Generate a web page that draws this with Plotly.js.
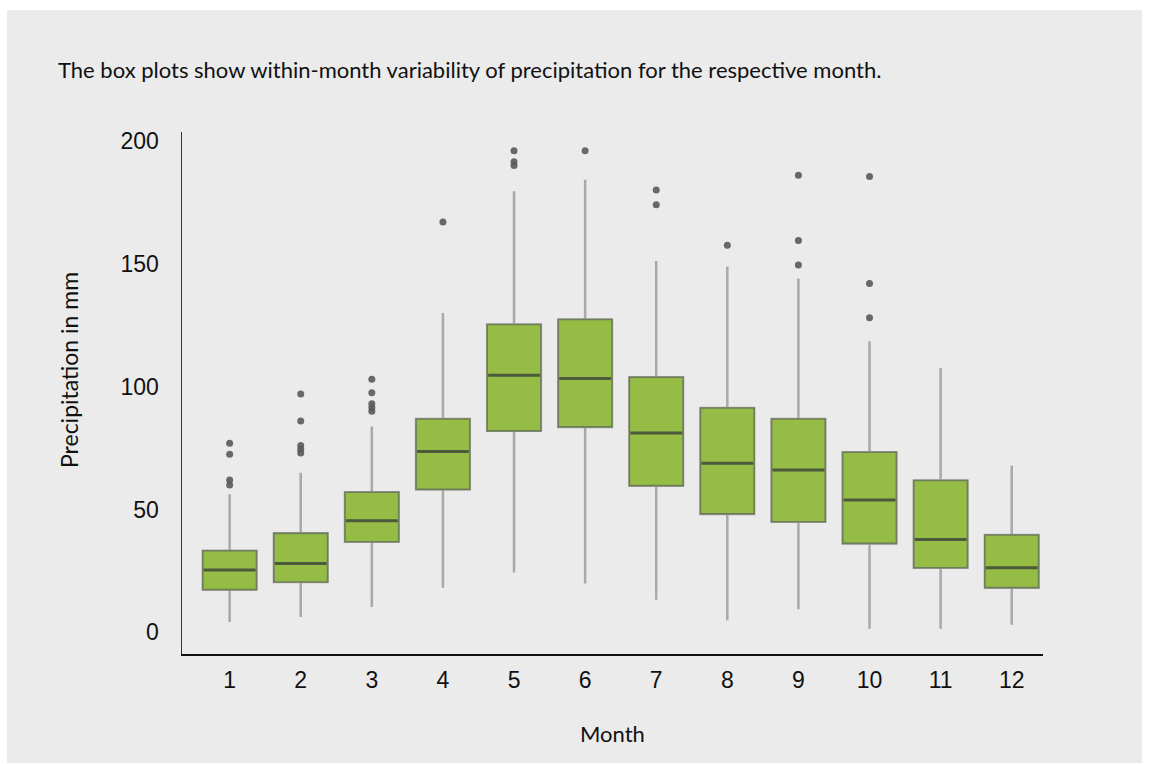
<!DOCTYPE html>
<html>
<head>
<meta charset="utf-8">
<script src="https://cdn.plot.ly/plotly-3.0.1.min.js"></script>
<style>
  html, body { margin: 0; padding: 0; background: #ffffff; }
  #chart { position: absolute; left: 7px; top: 10px; width: 1135px; height: 753px; }
</style>
</head>
<body>
<div id="chart"></div>
<script>
// ---- Data ----
const months = [1, 2, 3, 4, 5, 6, 7, 8, 9, 10, 11, 12];
const tickLabels = ["1", "2", "3", "4", "5", "6", "7", "8", "9", "10", "11", "12"];
const q1Values      = [17.4, 20.5, 36.9, 58.2, 82.0, 83.6, 59.7, 48.2, 45.0, 36.2, 26.3, 18.2];
const medianValues  = [25.4, 28.0, 45.4, 73.6, 104.6, 103.3, 81.1, 68.8, 66.1, 53.9, 37.8, 26.3];
const q3Values      = [33.2, 40.3, 57.0, 86.8, 125.3, 127.3, 103.8, 91.3, 86.8, 73.3, 61.8, 39.6];
const whiskerLow    = [4.2, 6.3, 10.3, 18.2, 24.4, 19.9, 13.3, 4.9, 9.4, 1.5, 1.5, 3.1];
const whiskerHigh   = [56.2, 65.0, 83.8, 130.0, 179.5, 184.2, 151.1, 148.9, 144.0, 118.5, 107.6, 67.9];
const outlierMonth  = [1, 1, 1, 1, 2, 2, 2, 2, 2, 3, 3, 3, 3, 3, 4, 5, 5, 5, 6, 7, 7, 8, 9, 9, 9, 10, 10, 10];
const outlierValue  = [77, 72.5, 62, 60, 97, 86, 76, 74.5, 73, 103, 97.5, 93, 91.5, 90, 167, 196, 191.5, 190, 196, 180, 174, 157.5, 186, 159.5, 149.5, 185.5, 142, 128];

const titleText = "The box plots show within-month variability of precipitation for the respective month.";
const yTitle = "Precipitation in mm";
const xTitle = "Month";

// ---- Styles ----
const boxFill = "#95bd45";
const boxEdge = "#6e7d5a";
const medianColor = "#4c5a3b";
const whiskerColor = "#a9a9a9";
const outlierColor = "#5a5a5a";
const boxWidth = 0.755;
const textFont = "Lato, 'Noto Sans', sans-serif";
const tickFontFamily = "'Liberation Sans', Arial, sans-serif";

const whiskers = {
  type: "box", x: months, q1: q1Values, median: medianValues, q3: q3Values,
  lowerfence: whiskerLow, upperfence: whiskerHigh,
  boxpoints: false, whiskerwidth: 0, width: boxWidth,
  fillcolor: "rgba(0,0,0,0)", line: { color: whiskerColor, width: 2.5 },
  hoverinfo: "skip", showlegend: false
};
const boxes = {
  type: "box", x: months, q1: q1Values, median: medianValues, q3: q3Values,
  lowerfence: q1Values, upperfence: q3Values,
  boxpoints: false, whiskerwidth: 0, width: boxWidth,
  fillcolor: boxFill, line: { color: boxEdge, width: 1.6 },
  hoverinfo: "skip", showlegend: false
};
const medians = {
  type: "box", x: months, q1: medianValues, median: medianValues, q3: medianValues,
  lowerfence: medianValues, upperfence: medianValues,
  boxpoints: false, whiskerwidth: 0, width: boxWidth - 0.03,
  fillcolor: "rgba(0,0,0,0)", line: { color: medianColor, width: 3 },
  hoverinfo: "skip", showlegend: false
};
const outliers = {
  type: "scatter", mode: "markers", x: outlierMonth, y: outlierValue,
  marker: { color: outlierColor, size: 7, opacity: 0.9 },
  hoverinfo: "skip", showlegend: false
};

const layout = {
  width: 1135, height: 753,
  paper_bgcolor: "#ebebeb", plot_bgcolor: "#ebebeb",
  margin: { l: 175, r: 99, t: 122, b: 109 },
  boxmode: "overlay",
  showlegend: false,
  title: {
    text: titleText,
    font: { family: textFont, size: 22, color: "#111111" },
    xref: "container", yref: "container", x: 51 / 1135, xanchor: "left",
    y: 1 - 60 / 753, yanchor: "middle"
  },
  xaxis: {
    range: [0.33, 12.44],
    tickmode: "array", tickvals: months, ticktext: tickLabels,
    showgrid: false, zeroline: false,
    showline: true, linecolor: "#111111", linewidth: 1.5,
    ticks: "outside", ticklen: 5, tickcolor: "rgba(0,0,0,0)",
    tickfont: { family: tickFontFamily, size: 23, color: "#111111" }
  },
  yaxis: {
    range: [-8.8, 203.6],
    tickmode: "array", tickvals: [0, 50, 100, 150, 200],
    showgrid: false, zeroline: false,
    showline: true, linecolor: "#333333", linewidth: 1.5,
    ticks: "outside", ticklen: 17, tickcolor: "rgba(0,0,0,0)",
    tickfont: { family: tickFontFamily, size: 23, color: "#111111" }
  },
  annotations: [
    { text: yTitle, xref: "paper", yref: "paper", x: (62 - 175) / 861, y: (644 - 360) / 522,
      xanchor: "center", yanchor: "middle", textangle: -90, showarrow: false,
      font: { family: textFont, size: 23, color: "#111111" } },
    { text: xTitle, xref: "paper", yref: "paper", x: 0.5, y: (644 - 723) / 522,
      xanchor: "center", yanchor: "middle", showarrow: false,
      font: { family: textFont, size: 22, color: "#111111" } }
  ]
};

Plotly.newPlot("chart", [whiskers, boxes, medians, outliers], layout, { displayModeBar: false, staticPlot: true });
</script>
</body>
</html>
